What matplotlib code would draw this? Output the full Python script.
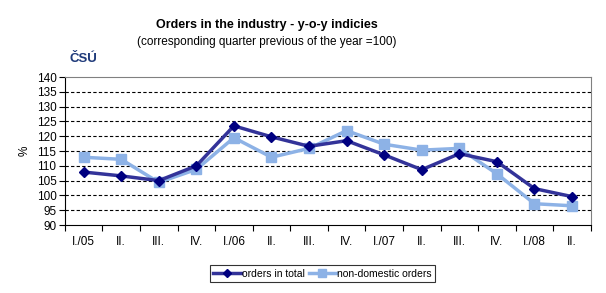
import numpy as np
import matplotlib
matplotlib.use("Agg")
import matplotlib.pyplot as plt

plt.rcParams["font.family"] = ["Liberation Sans", "DejaVu Sans"]

quarters = ["I./05", "II.", "III.", "IV.", "I./06", "II.", "III.", "IV.",
            "I./07", "II.", "III.", "IV.", "I./08", "II."]
orders_total = [107.9, 106.6, 105.0, 110.0, 123.5, 119.8, 116.6, 118.5,
                113.7, 108.7, 114.1, 111.4, 102.3, 99.6]
non_domestic = [112.9, 112.2, 104.4, 108.8, 119.5, 112.9, 115.9, 121.9,
                117.3, 115.3, 115.9, 107.3, 97.2, 96.5]

fig = plt.figure(figsize=(6.06, 2.93), dpi=100)
ax = fig.add_axes([0.107, 0.232, 0.868, 0.505])

x = np.arange(len(quarters))
ax.plot(x, orders_total, color="#333399", lw=2.5, marker="D", ms=5,
        mfc="#000080", mec="#000080", label="orders in total", zorder=3)
ax.plot(x, non_domestic, color="#8DB2E6", lw=2.5, marker="s", ms=6.5,
        mfc="#8DB2E6", mec="#8DB2E6", label="non-domestic orders", zorder=2)

ax.set_xlim(-0.5, len(quarters) - 0.5)
ax.set_ylim(90, 140)
ax.set_yticks(np.arange(90, 141, 5))
for y in range(95, 140, 5):
    ax.axhline(y, color="black", lw=0.8, ls=(0, (3, 2)), zorder=1)

ax.set_xticks(x)
ax.set_xticklabels(quarters)
ax.set_xticks(np.arange(-0.5, len(quarters), 1), minor=True)
ax.tick_params(axis="x", which="major", length=0, pad=8, labelsize=8.5)
ax.tick_params(axis="x", which="minor", length=4, width=0.8, direction="out")
ax.tick_params(axis="y", length=4, width=0.8, labelsize=8.5, pad=2)

ax.spines["top"].set_color("#808080")
ax.spines["right"].set_color("#808080")
for s in ["left", "bottom"]:
    ax.spines[s].set_linewidth(0.8)

ax.set_ylabel("%", fontsize=8.5, labelpad=4)

fig.text(0.44, 0.915, "Orders in the industry - y-o-y indicies",
         ha="center", va="center", fontsize=9, fontweight="bold")
fig.text(0.44, 0.855, "(corresponding quarter previous of the year =100)",
         ha="center", va="center", fontsize=8.5)
fig.text(0.115, 0.8, "ČSÚ", ha="left", va="center", fontsize=9.5,
         fontweight="bold", color="#1F3A7A")

leg = fig.legend(loc="center", bbox_to_anchor=(0.532, 0.066), ncol=2,
                 fontsize=7.5, frameon=True, fancybox=False, handlelength=2.6,
                 handletextpad=0.1, columnspacing=0.4, borderpad=0.35,
                 borderaxespad=0, markerscale=0.8)
leg.get_frame().set_edgecolor("black")
leg.get_frame().set_linewidth(0.8)

fig.savefig("out.png", dpi=100)
